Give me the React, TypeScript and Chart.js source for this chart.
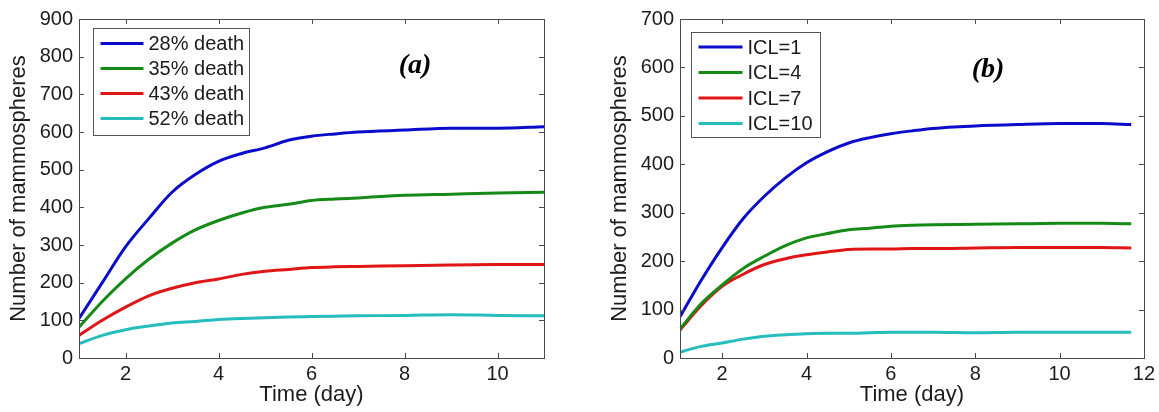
import React, { useEffect, useRef } from "react";
import { Chart, registerables } from "chart.js";

Chart.register(...registerables);

// Panel (a): mammosphere counts for different death rates
const daysA = [1, 1.5, 2, 2.5, 3, 3.5, 4, 4.5, 5, 5.5, 6, 6.5, 7, 8, 9, 10, 11];
const death28 = [105, 200, 295, 370, 440, 487, 522, 543, 558, 578, 589, 595, 600, 605, 610, 610, 614];
const death35 = [82, 150, 210, 262, 305, 340, 365, 385, 400, 408, 418, 422, 425, 432, 435, 438, 440];
const death43 = [60, 100, 135, 165, 185, 200, 210, 222, 230, 235, 240, 242, 243, 245, 247, 248, 248];
const death52 = [38, 60, 75, 85, 93, 97, 102, 105, 107, 109, 110, 111, 112, 113, 115, 113, 112];
const labelsA = ["28% death", "35% death", "43% death", "52% death"];
const xTicksA = [2, 4, 6, 8, 10];
const yTicksA = [0, 100, 200, 300, 400, 500, 600, 700, 800, 900];

// Panel (b): mammosphere counts for different ICL values
const daysB = [1, 1.5, 2, 2.5, 3, 3.5, 4, 4.5, 5, 5.5, 6, 6.5, 7, 8, 9, 10, 11, 11.7];
const icl1 = [85, 160, 228, 288, 334, 372, 403, 426, 444, 455, 463, 469, 474, 479, 482, 484, 484, 482];
const icl4 = [60, 112, 151, 185, 210, 232, 248, 257, 265, 268, 272, 274, 275, 276, 277, 278, 278, 277];
const icl7 = [58, 108, 148, 173, 193, 205, 213, 219, 224, 225, 225, 226, 226, 227, 228, 228, 228, 227];
const icl10 = [12, 24, 31, 39, 45, 48, 50, 51, 51, 52, 53, 53, 53, 52, 53, 53, 53, 53];
const labelsB = ["ICL=1", "ICL=4", "ICL=7", "ICL=10"];
const xTicksB = [2, 4, 6, 8, 10, 12];
const yTicksB = [0, 100, 200, 300, 400, 500, 600, 700];

const COLORS = ["#0b0bcc", "#168a16", "#e01515", "#26bdbd"];
const TEXT = "#1c1c1c";
const SANS = "'Liberation Sans', Arial, sans-serif";

const toPoints = (xs: number[], ys: number[]) => xs.map((x, i) => ({ x, y: ys[i] }));

// Draws the axes box with inward tick marks, the boxed legend and the panel tag
const framePlugin = {
  id: "frame",
  afterDatasetsDraw(chart: any, _args: any, opts: any) {
    const { ctx, chartArea: a } = chart;
    const xs = chart.scales.x;
    const ys = chart.scales.y;
    ctx.save();
    ctx.strokeStyle = "#4a4a4a";
    ctx.lineWidth = 1;
    ctx.strokeRect(Math.round(a.left) + 0.5, Math.round(a.top) + 0.5, Math.round(a.right - a.left), Math.round(a.bottom - a.top));
    const tl = 5;
    ctx.beginPath();
    xs.ticks.forEach((t: any) => {
      const px = Math.round(xs.getPixelForValue(t.value)) + 0.5;
      ctx.moveTo(px, a.bottom);
      ctx.lineTo(px, a.bottom - tl);
      ctx.moveTo(px, a.top);
      ctx.lineTo(px, a.top + tl);
    });
    ys.ticks.forEach((t: any) => {
      const py = Math.round(ys.getPixelForValue(t.value)) + 0.5;
      ctx.moveTo(a.left, py);
      ctx.lineTo(a.left + tl, py);
      ctx.moveTo(a.right, py);
      ctx.lineTo(a.right - tl, py);
    });
    ctx.stroke();

    // legend box
    const bx = Math.round(a.left + opts.dx) + 0.5;
    const by = Math.round(a.top + opts.dy) + 0.5;
    ctx.fillStyle = "#ffffff";
    ctx.fillRect(bx, by, opts.w, opts.h);
    ctx.strokeStyle = "#555555";
    ctx.strokeRect(bx, by, opts.w, opts.h);
    ctx.font = `20px ${SANS}`;
    ctx.textBaseline = "middle";
    ctx.textAlign = "left";
    chart.data.datasets.forEach((ds: any, i: number) => {
      const ry = by + opts.row0 + i * opts.rowGap;
      ctx.strokeStyle = ds.borderColor;
      ctx.lineWidth = 3;
      ctx.beginPath();
      ctx.moveTo(bx + opts.l0, ry);
      ctx.lineTo(bx + opts.l1, ry);
      ctx.stroke();
      ctx.fillStyle = TEXT;
      ctx.fillText(ds.label, bx + opts.tx, ry + 1);
    });

    // panel tag
    ctx.font = `italic bold 28px 'Liberation Serif', 'Times New Roman', serif`;
    ctx.textAlign = "center";
    ctx.fillStyle = "#000";
    ctx.fillText(opts.tag, opts.tagX, opts.tagY);
    ctx.restore();
  },
};

type PanelProps = {
  days: number[];
  series: number[][];
  labels: string[];
  xMax: number;
  xTicks: number[];
  yMax: number;
  yTicks: number[];
  width: number;
  padLeft: number;
  padRight: number;
  frame: any;
};

function Panel(p: PanelProps) {
  const ref = useRef<HTMLCanvasElement | null>(null);
  useEffect(() => {
    if (!ref.current) return;
    const tickFont = { family: SANS, size: 20 };
    const chart = new Chart(ref.current, {
      type: "line",
      data: {
        datasets: p.series.map((s, i) => ({
          label: p.labels[i],
          data: toPoints(p.days, s),
          borderColor: COLORS[i],
          backgroundColor: COLORS[i],
          borderWidth: 3,
          pointRadius: 0,
          fill: false,
          cubicInterpolationMode: "monotone" as const,
        })),
      },
      options: {
        animation: false,
        responsive: false,
        events: [],
        layout: { padding: { left: p.padLeft, top: 19, right: p.padRight, bottom: 0 } },
        plugins: {
          legend: { display: false },
          tooltip: { enabled: false },
          frame: p.frame,
        } as any,
        scales: {
          x: {
            type: "linear",
            min: 1,
            max: p.xMax,
            afterBuildTicks: (s: any) => {
              s.ticks = p.xTicks.map((v) => ({ value: v }));
            },
            afterFit: (s: any) => {
              s.height = 54;
            },
            grid: { display: false, drawTicks: false },
            border: { display: false },
            ticks: { font: tickFont, color: TEXT, padding: 4, maxRotation: 0, autoSkip: false },
            title: {
              display: true,
              text: "Time (day)",
              font: { family: SANS, size: 22 },
              color: TEXT,
              padding: { top: 0, bottom: 4 },
            },
          },
          y: {
            type: "linear",
            min: 0,
            max: p.yMax,
            afterBuildTicks: (s: any) => {
              s.ticks = p.yTicks.map((v) => ({ value: v }));
            },
            afterFit: (s: any) => {
              s.width = 79;
            },
            grid: { display: false, drawTicks: false },
            border: { display: false },
            ticks: { font: tickFont, color: TEXT, padding: 6, autoSkip: false },
            title: {
              display: true,
              text: "Number of mammospheres",
              font: { family: SANS, size: 22 },
              color: TEXT,
              padding: { top: 6, bottom: 0 },
            },
          },
        },
      },
      plugins: [framePlugin],
    } as any);
    return () => chart.destroy();
  }, []);
  return <canvas ref={ref} width={p.width} height={412} style={{ display: "block", width: p.width, height: 412 }} />;
}

export default function App() {
  return (
    <div style={{ position: "absolute", left: 0, top: 0, width: 1159, height: 412, background: "#fff", display: "flex" }}>
      <Panel
        days={daysA}
        series={[death28, death35, death43, death52]}
        labels={labelsA}
        xMax={11}
        xTicks={xTicksA}
        yMax={900}
        yTicks={yTicksA}
        width={580}
        padLeft={0}
        padRight={36}
        frame={{ dx: 14, dy: 9, w: 156, h: 107, row0: 15, rowGap: 25, l0: 7, l1: 50, tx: 55, tag: "(a)", tagX: 415, tagY: 66 }}
      />
      <Panel
        days={daysB}
        series={[icl1, icl4, icl7, icl10]}
        labels={labelsB}
        xMax={12}
        xTicks={xTicksB}
        yMax={700}
        yTicks={yTicksB}
        width={579}
        padLeft={21}
        padRight={15}
        frame={{ dx: 11, dy: 13, w: 129, h: 105, row0: 14.5, rowGap: 25.5, l0: 7, l1: 51, tx: 56, tag: "(b)", tagX: 408, tagY: 70 }}
      />
    </div>
  );
}
